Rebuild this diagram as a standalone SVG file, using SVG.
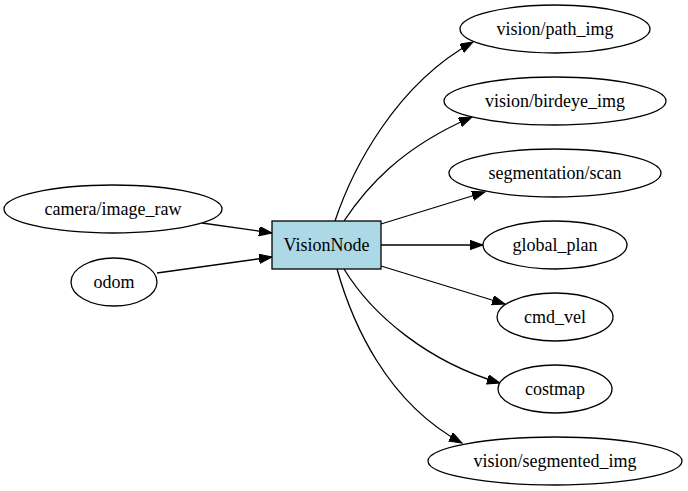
<svg xmlns="http://www.w3.org/2000/svg" width="688" height="491" viewBox="0 0 688 491">
<style>
.n ellipse{fill:#fff;stroke:#000;stroke-width:1.3}
.n rect{fill:#add8e6;stroke:#000;stroke-width:1.3}
.n text{font-family:"Times New Roman","Liberation Serif","DejaVu Serif",serif;font-size:18px;text-anchor:middle;fill:#000}
.e path{fill:none;stroke:#000;stroke-width:1.3;marker-end:url(#ah)}
</style>
<defs>
<marker id="ah" markerUnits="userSpaceOnUse" markerWidth="14" markerHeight="10" refX="13" refY="4.7" orient="auto">
<path d="M0,0 L13,4.7 L0,9.4 z" fill="#000" stroke="#000" stroke-width="1"/>
</marker>
</defs>
<rect width="688" height="491" fill="#fff"/>
<g class="e" id="edges">
<path d="M202,223 L272,233"/>
<path d="M157,273 L272,257"/>
<path d="M335,221 C352,170 395,85 473,42"/>
<path d="M344,221 C366,188 400,148 472,117"/>
<path d="M381,224 L485,192"/>
<path d="M381,245 L483,245"/>
<path d="M381,266 L505,304"/>
<path d="M344,269 C372,315 428,362 500,383"/>
<path d="M337,269 C352,322 386,402 462,443"/>
</g>
<g class="n">
<g id="camera_image_raw"><ellipse cx="113" cy="209" rx="109" ry="24"/><text x="113" y="215">camera/image_raw</text></g>
<g id="odom"><ellipse cx="114" cy="282" rx="43" ry="24"/><text x="114" y="288">odom</text></g>
<g id="VisionNode"><rect x="272" y="221" width="109" height="48"/><text x="326.5" y="251">VisionNode</text></g>
<g id="vision_path_img"><ellipse cx="555" cy="29" rx="95" ry="24"/><text x="555" y="35">vision/path_img</text></g>
<g id="vision_birdeye_img"><ellipse cx="555" cy="101" rx="111" ry="24"/><text x="555" y="107">vision/birdeye_img</text></g>
<g id="segmentation_scan"><ellipse cx="555" cy="173" rx="106" ry="24"/><text x="555" y="179">segmentation/scan</text></g>
<g id="global_plan"><ellipse cx="555" cy="245" rx="72" ry="24"/><text x="555" y="251">global_plan</text></g>
<g id="cmd_vel"><ellipse cx="555" cy="317" rx="58" ry="24"/><text x="555" y="323">cmd_vel</text></g>
<g id="costmap"><ellipse cx="555" cy="389" rx="57" ry="24"/><text x="555" y="395">costmap</text></g>
<g id="vision_segmented_img"><ellipse cx="555" cy="461" rx="127" ry="24"/><text x="555" y="467">vision/segmented_img</text></g>
</g>
</svg>
